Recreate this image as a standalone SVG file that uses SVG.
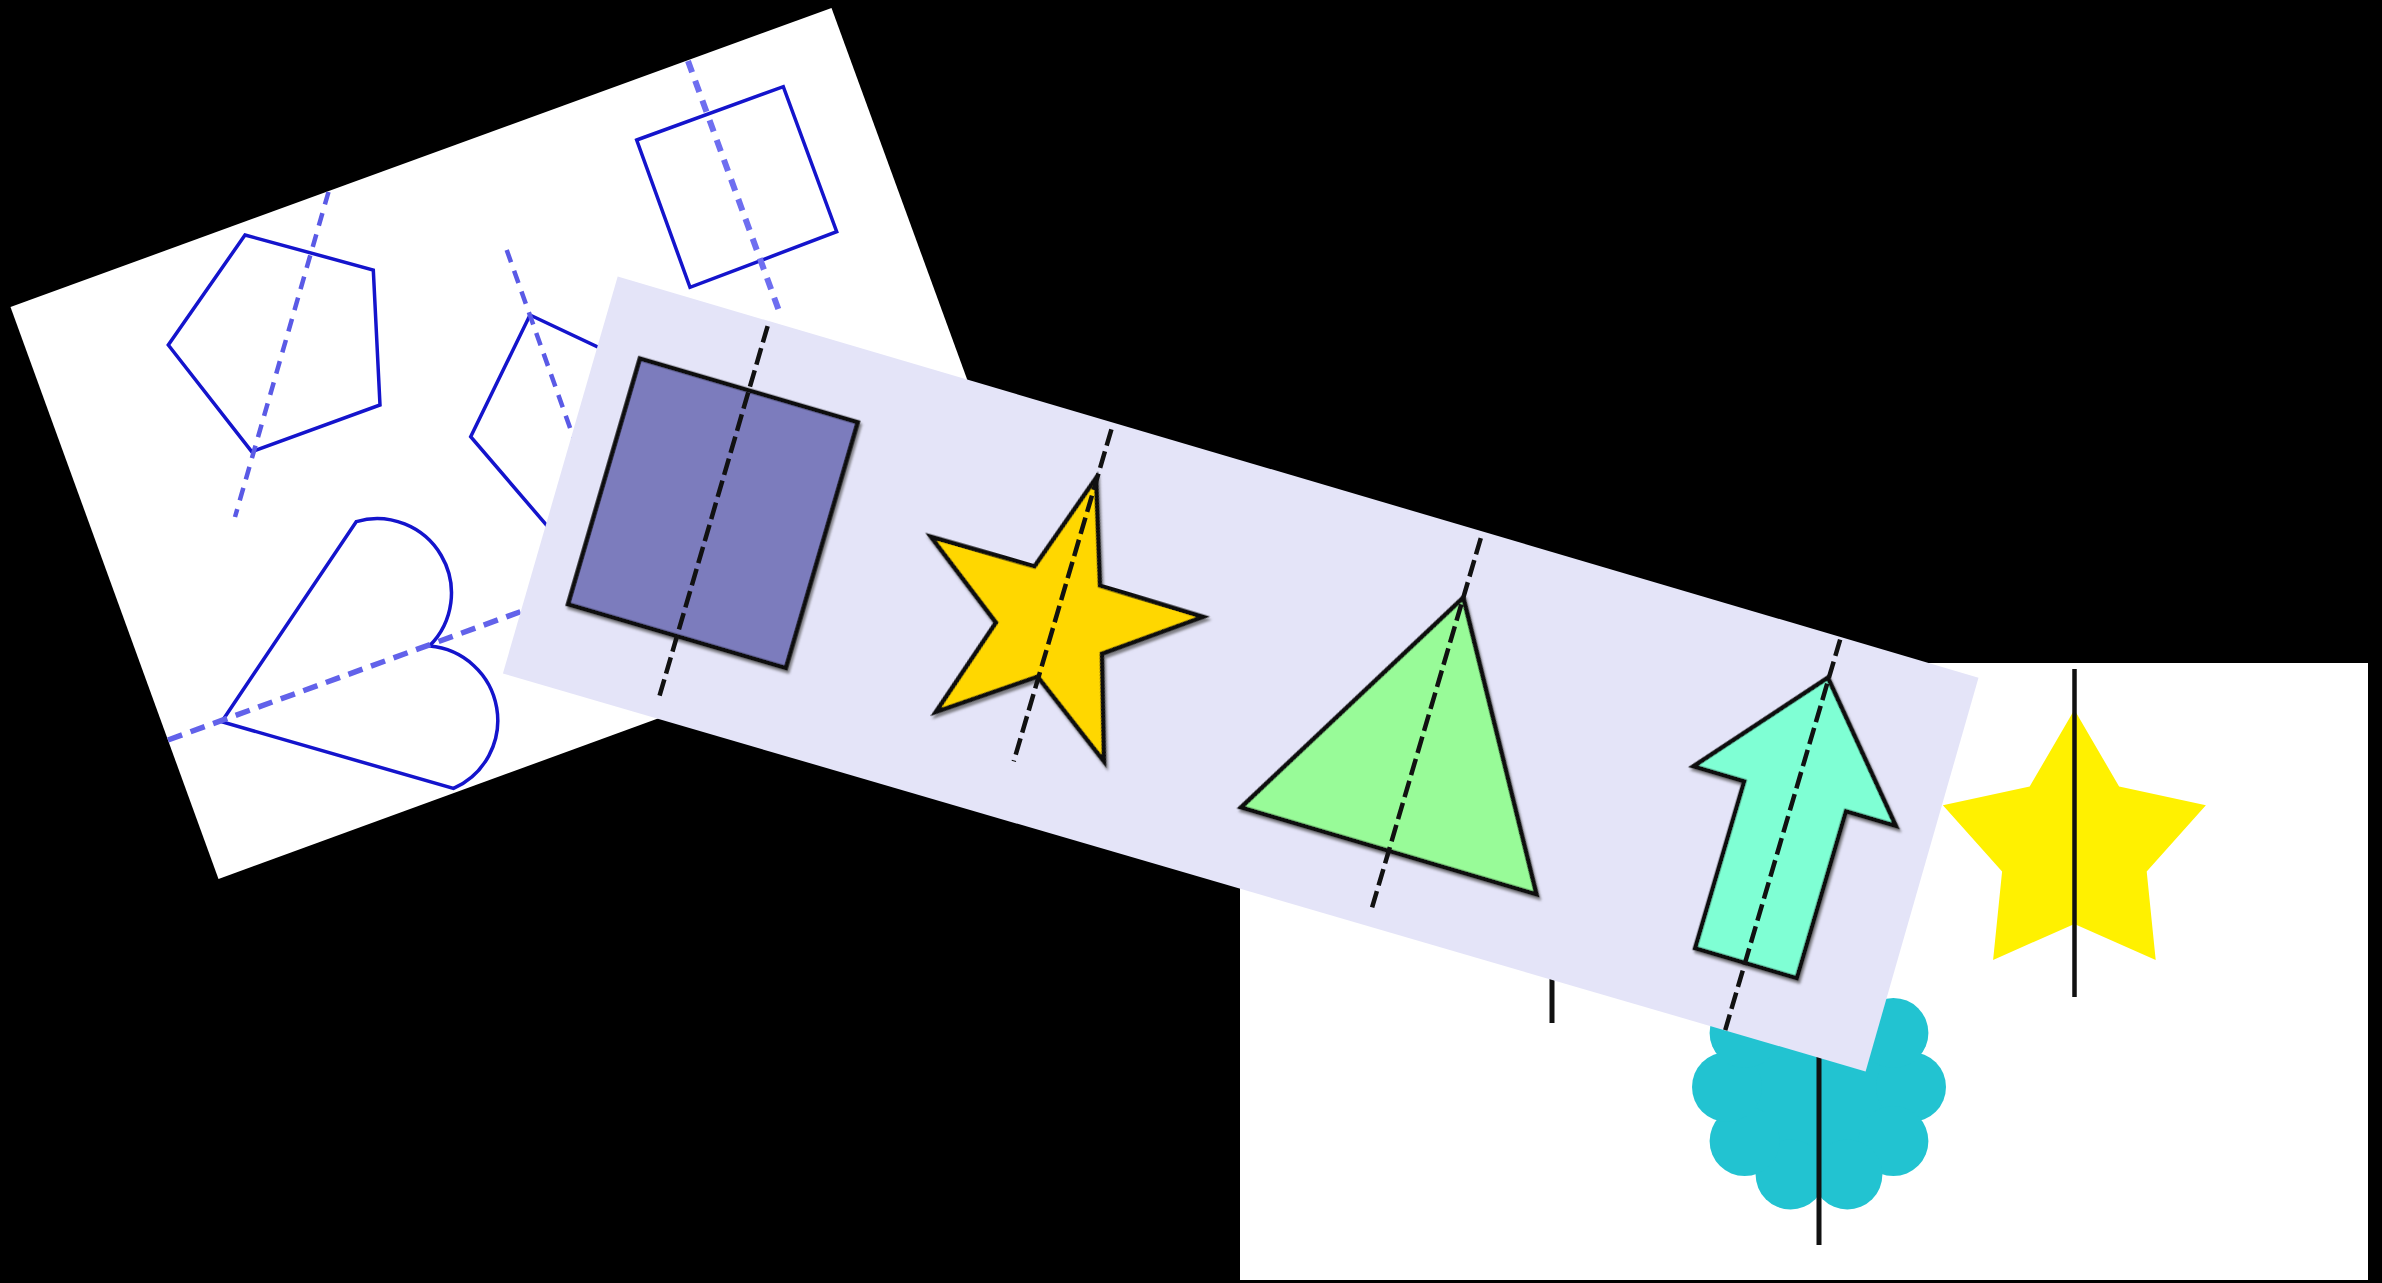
<svg xmlns="http://www.w3.org/2000/svg" width="2382" height="1283" viewBox="0 0 2382 1283">
<defs>
<style>
.card{fill:#ffffff}
.lav{fill:#e4e4f8}
.bo{fill:none;stroke:#1414cc;stroke-width:3.5;stroke-linejoin:miter}
.bd{fill:none;stroke:#5a5ae6;stroke-width:4.5;stroke-dasharray:13 9}
.sh{stroke:#111;stroke-width:4.5;stroke-linejoin:miter}
.kd{fill:none;stroke:#111;stroke-width:4.5;stroke-dasharray:17 6}
.vl{stroke:#111;stroke-width:5}
</style>
<filter id="ds" x="-10%" y="-10%" width="130%" height="130%">
<feDropShadow dx="2.5" dy="2.5" stdDeviation="1" flood-color="#555" flood-opacity="0.7"/>
</filter>
</defs>
<rect width="2382" height="1283" fill="#000"/>

<g id="card-outlines">
<polygon class="card" points="10.5,307 831.5,8 1040,579 218.5,879"/>
<g id="pentagon">
<polygon class="bo" points="245,235 373.3,270 380,405 251.7,451.7 168.3,345"/>
<line class="bd" x1="328.5" y1="192" x2="235" y2="517"/>
</g>
<g id="square">
<polygon class="bo" points="636.7,140 783.3,86.7 836.7,231.7 690,287.3"/>
<line class="bd" x1="688" y1="61" x2="779" y2="311" style="stroke-width:6;stroke:#6e6ef0;stroke-dasharray:12 9"/>
</g>
<g id="kite">
<polygon class="bo" points="530,315 652.6,372.8 649,644.7 470.7,436.7"/>
<line class="bd" x1="506.7" y1="250" x2="600" y2="512"/>
</g>
<g id="heart">
<path class="bo" transform="translate(221.7,721.7) rotate(-20)" d="M0,0 L195,-142 A74.5,74.5 0 0 1 221,0 A74.5,74.5 0 0 1 195,142 Z"/>
<line class="bd" x1="168" y1="740" x2="580" y2="590" style="stroke-width:5.5;stroke:#6262ea;stroke-dasharray:15 9"/>
</g>
</g>

<g id="card-solid">
<rect class="card" x="1240" y="663" width="1128" height="617"/>
<g id="hidden-line">
<line class="vl" x1="1552" y1="940" x2="1552" y2="1023"/>
</g>
<g id="yellow-star">
<polygon fill="#fff100" points="2074.4,709.7 2119.1,786.5 2205.9,805.3 2146.7,871.5 2155.7,959.9 2074.4,924 1993.1,959.9 2002.1,871.5 1942.9,805.3 2029.7,786.5"/>
<line class="vl" x1="2074.5" y1="669" x2="2074.5" y2="997" style="stroke-width:4.5"/>
</g>
<g id="cloud">
<g fill="#22c3d1">
<circle cx="1819" cy="1087" r="96"/>
<circle cx="1911" cy="1087" r="35"/>
<circle cx="1893.4" cy="1141.1" r="35"/>
<circle cx="1847.4" cy="1174.5" r="35"/>
<circle cx="1790.6" cy="1174.5" r="35"/>
<circle cx="1744.6" cy="1141.1" r="35"/>
<circle cx="1727" cy="1087" r="35"/>
<circle cx="1744.6" cy="1032.9" r="35"/>
<circle cx="1790.6" cy="999.5" r="35"/>
<circle cx="1847.4" cy="999.5" r="35"/>
<circle cx="1893.4" cy="1032.9" r="35"/>
</g>
<line class="vl" x1="1819" y1="1000" x2="1819" y2="1245"/>
</g>
</g>

<g id="card-filled">
<polygon class="lav" points="617.7,276.5 1978.5,677.7 1865.6,1071.4 502.9,673.5"/>
<g id="rect-shape" transform="translate(712.9,513.3) rotate(16.3)">
<rect class="sh" x="-113.5" y="-128" width="227" height="256" fill="#7b7bbd" filter="url(#ds)"/>
<line class="kd" x1="0" y1="-195" x2="0" y2="191"/>
</g>
<g id="star-shape" transform="translate(1054,621) rotate(16.4)">
<polygon class="sh" fill="#ffd700" filter="url(#ds)" points="0,-149 34.1,-46.9 141.7,-46 55.2,17.9 87.6,120.5 0,58 -87.6,120.5 -55.2,17.9 -141.7,-46 -34.1,-46.9"/>
<line class="kd" x1="1" y1="-200" x2="1" y2="146"/>
</g>
<g id="triangle-shape" transform="translate(1463.3,597.6) rotate(16.4)">
<polygon class="sh" fill="#98fb98" filter="url(#ds)" points="0,0 154,264 -154,264"/>
<line class="kd" x1="0" y1="-62" x2="0" y2="328"/>
</g>
<g id="arrow-shape" transform="translate(1827.9,677.7) rotate(16.4)">
<polygon class="sh" fill="#7fffd4" filter="url(#ds)" points="0,0 107,123 55,123 55,297 -51,297 -51,123 -104,123"/>
<line class="kd" x1="1" y1="-40" x2="1" y2="367"/>
</g>
</g>
</svg>
